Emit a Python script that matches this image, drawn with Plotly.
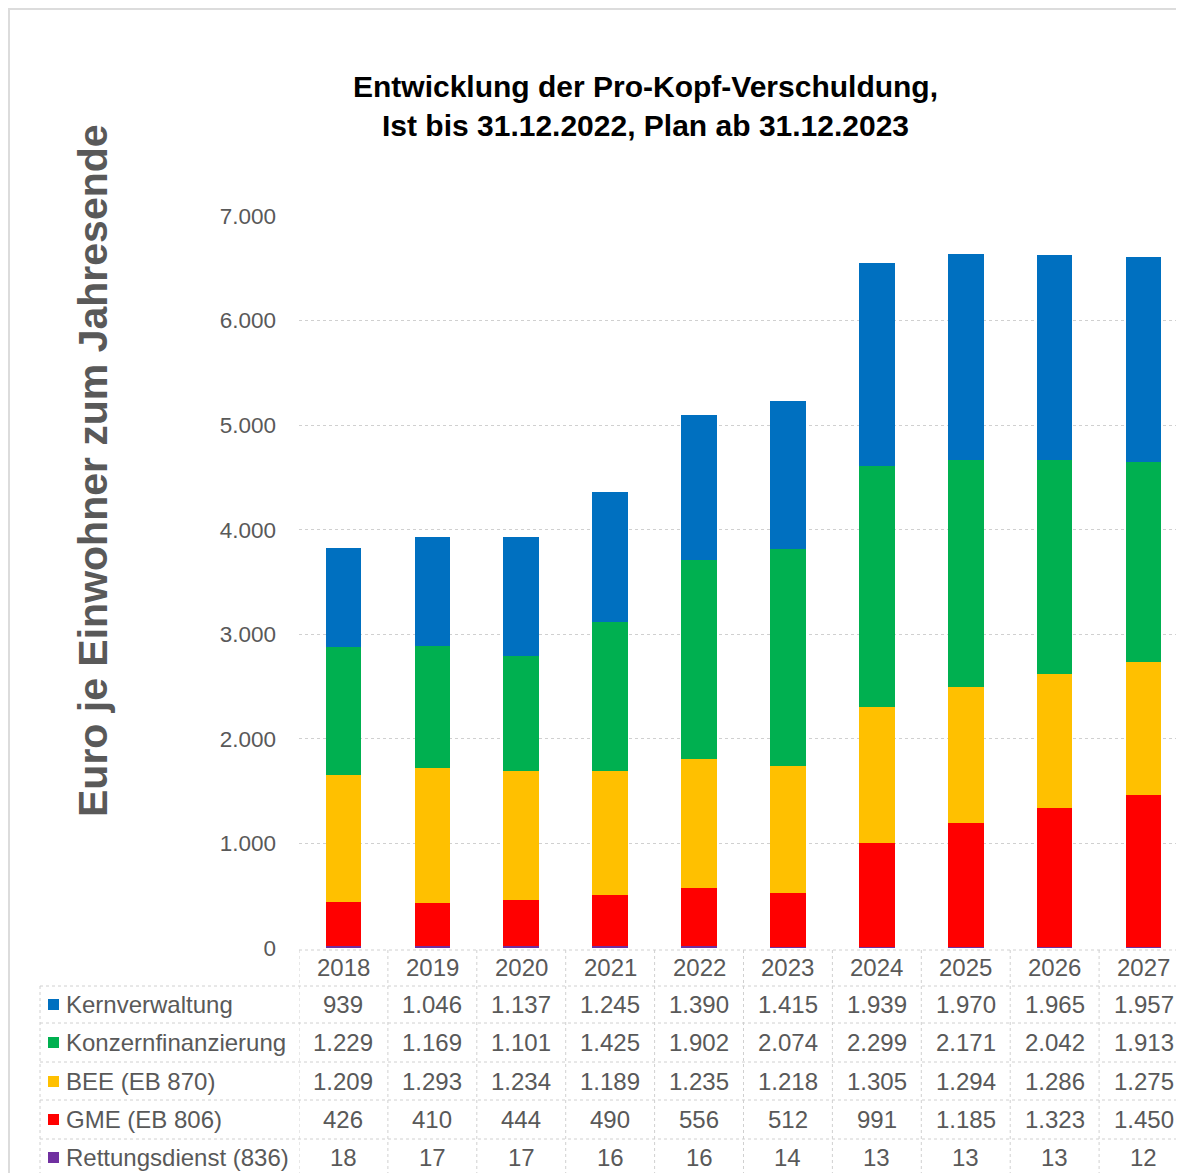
"""Stacked bars of per-capita debt with an Excel-style data table underneath."""

import plotly.graph_objects as go

YEARS = ['2018', '2019', '2020', '2021', '2022', '2023', '2024', '2025', '2026', '2027']

KERNVERWALTUNG = [939, 1046, 1137, 1245, 1390, 1415, 1939, 1970, 1965, 1957]
KONZERNFINANZIERUNG = [1229, 1169, 1101, 1425, 1902, 2074, 2299, 2171, 2042, 1913]
BEE = [1209, 1293, 1234, 1189, 1235, 1218, 1305, 1294, 1286, 1275]
GME = [426, 410, 444, 490, 556, 512, 991, 1185, 1323, 1450]
RETTUNGSDIENST = [18, 17, 17, 16, 16, 14, 13, 13, 13, 12]

# table order (top to bottom); bars stack in reverse
SERIES = [
    ('Kernverwaltung', KERNVERWALTUNG, '#0070C0'),
    ('Konzernfinanzierung', KONZERNFINANZIERUNG, '#00B050'),
    ('BEE (EB 870)', BEE, '#FFC000'),
    ('GME (EB 806)', GME, '#FF0000'),
    ('Rettungsdienst (836)', RETTUNGSDIENST, '#7030A0'),
]

# the html body has an 8px margin, so the figure is 8px smaller than the window
OFF = 8
W, H = 1184 - OFF, 1173 - OFF
ML, MR, MT, MB = 299 - OFF, 0, 216 - OFF, 1173 - 948
PLOT_W = W - ML - MR
PLOT_H = H - MT - MB
FONT = 'Liberation Sans, Arial, sans-serif'
GREY = '#595959'
GRID = '#d0d0d0'
TFS = 24  # table font size


def px_x(p):
    # p is a pixel position in window coordinates
    return (p - OFF - ML) / PLOT_W


def px_y(p):
    return (H - MB - (p - OFF)) / PLOT_H


def fmt(v):
    return f'{v:,}'.replace(',', '.')


fig = go.Figure()
for name, vals, color in reversed(SERIES):
    fig.add_trace(go.Bar(x=YEARS, y=vals, name=name, marker=dict(color=color, line=dict(width=0)),
                         width=0.4, showlegend=False))

shapes = []
annotations = []

# table grid
row_lines = [950, 986, 1023, 1062, 1100, 1139]
for i, yl in enumerate(row_lines):
    if i == 0:
        shapes.append(dict(type='line', xref='x', yref='paper', x0=-0.5, x1=len(YEARS) - 0.5,
                           y0=px_y(yl), y1=px_y(yl), line=dict(color=GRID, width=1, dash='dot')))
    else:
        shapes.append(dict(type='line', xref='paper', yref='paper', x0=px_x(40), x1=1,
                           y0=px_y(yl), y1=px_y(yl), line=dict(color=GRID, width=1, dash='dot')))
for k in range(len(YEARS) + 1):
    shapes.append(dict(type='line', xref='x', yref='paper', x0=k - 0.5, x1=k - 0.5,
                       y0=px_y(950), y1=px_y(1180), line=dict(color=GRID, width=1, dash='dot')))
shapes.append(dict(type='line', xref='paper', yref='paper', x0=px_x(40), x1=px_x(40),
                   y0=px_y(986), y1=px_y(1180), line=dict(color=GRID, width=1, dash='dot')))

# outer chart frame
shapes.append(dict(type='line', xref='paper', yref='paper', x0=px_x(8), x1=px_x(1190),
                   y0=px_y(9), y1=px_y(9), line=dict(color='#dcdcdc', width=2)))
shapes.append(dict(type='line', xref='paper', yref='paper', x0=px_x(9), x1=px_x(9),
                   y0=px_y(9), y1=px_y(1180), line=dict(color='#dcdcdc', width=2)))

# header row: years (x as category index)
for k, yr in enumerate(YEARS):
    annotations.append(dict(x=k, y=px_y(967), xref='x', yref='paper', text=yr, showarrow=False,
                            xanchor='center', yanchor='middle',
                            font=dict(size=TFS, color=GREY, family=FONT)))

row_centers = [1004, 1042, 1081, 1119, 1157]
for (name, vals, color), yc in zip(SERIES, row_centers):
    shapes.append(dict(type='rect', xref='paper', yref='paper',
                       x0=px_x(48), x1=px_x(59), y0=px_y(yc - 5), y1=px_y(yc + 6),
                       fillcolor=color, line=dict(width=0)))
    annotations.append(dict(x=px_x(64), y=px_y(yc), xref='paper', yref='paper', text=name,
                            xanchor='left', yanchor='middle', showarrow=False,
                            font=dict(size=TFS, color=GREY, family=FONT)))
    for k, v in enumerate(vals):
        annotations.append(dict(x=k, y=px_y(yc), xref='x', yref='paper', text=fmt(v),
                                xanchor='center', yanchor='middle', showarrow=False,
                                font=dict(size=TFS, color=GREY, family=FONT)))

# title
annotations.append(dict(x=px_x(645), y=px_y(106), xref='paper', yref='paper',
                        text='<b>Entwicklung der Pro-Kopf-Verschuldung,<br>Ist bis 31.12.2022, Plan ab 31.12.2023</b>',
                        xanchor='center', yanchor='middle', showarrow=False,
                        font=dict(size=30, color='black', family=FONT)))
# y axis title
annotations.append(dict(x=px_x(93), y=px_y(471), xref='paper', yref='paper', textangle=-90,
                        text='<b>Euro je Einwohner zum Jahresende</b>', showarrow=False,
                        xanchor='center', yanchor='middle',
                        font=dict(size=41, color=GREY, family=FONT)))

fig.update_layout(
    width=W,
    height=H,
    barmode='stack',
    separators=',.',
    plot_bgcolor='white',
    paper_bgcolor='white',
    margin=dict(l=ML, r=MR, t=MT, b=MB, autoexpand=False),
    shapes=shapes,
    annotations=annotations,
    font=dict(family=FONT, color=GREY),
)
fig.update_xaxes(type='category', range=[-0.5, 9.455], showticklabels=False, showgrid=False,
                 showline=False, zeroline=False, ticks='')
fig.update_yaxes(range=[0, 7000], dtick=1000, tickformat=',d', showgrid=True, gridcolor=GRID,
                 griddash='dot', zeroline=False, showline=False, ticklabelstandoff=22,
                 tickfont=dict(size=22.5, color=GREY, family=FONT))

fig.write_html('out.html')
